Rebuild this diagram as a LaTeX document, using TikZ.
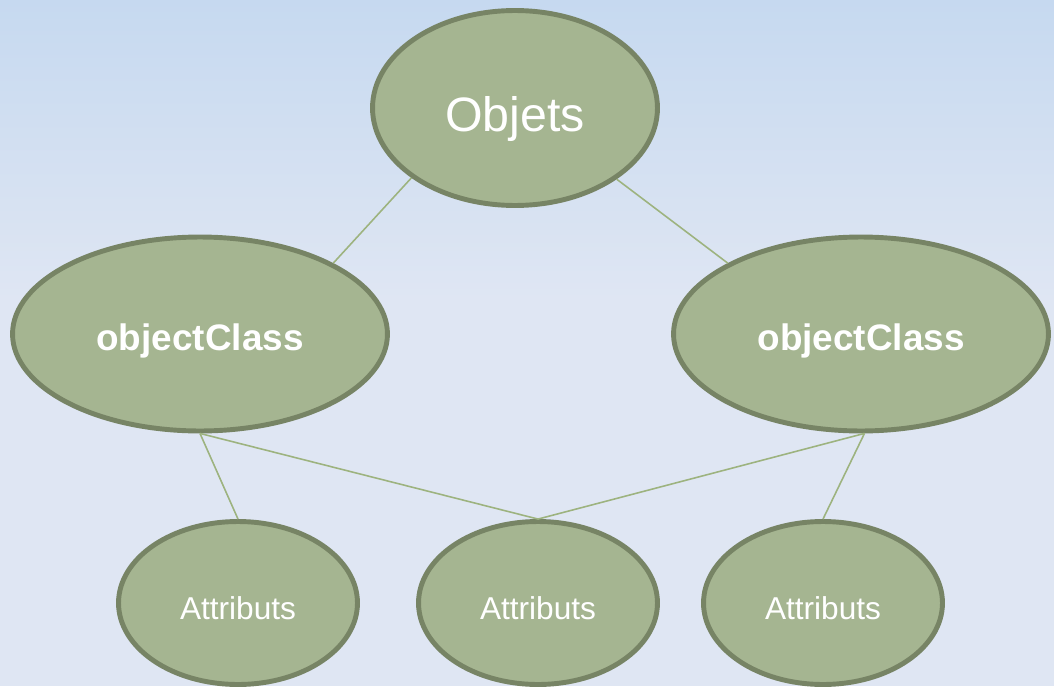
\documentclass[tikz,border=0pt]{standalone}
\usepackage{fontspec}
\setmainfont{Liberation Sans}
\usetikzlibrary{shapes.geometric}
\definecolor{bgtop}{RGB}{198,217,240}
\definecolor{bgbot}{RGB}{223,230,243}
\definecolor{ovalfill}{RGB}{165,181,145}
\definecolor{ovalline}{RGB}{119,132,101}
\definecolor{linkcol}{RGB}{157,179,127}
\begin{document}
\begin{tikzpicture}[x=0.02cm,y=-0.02cm,
  oval/.style={ellipse, draw=ovalline, fill=ovalfill, line width=2.8pt,
    inner sep=0pt, text=white, text depth=0pt},
  link/.style={draw=linkcol, line width=0.9pt},
]
\useasboundingbox (0,0) rectangle (1054,686);
% background: light blue gradient fading into a flat pale tone
\shade[top color=bgtop, bottom color=bgbot] (0,0) rectangle (1054,300);
\fill[bgbot] (0,299) rectangle (1054,686);

% top level
\node[oval, minimum width=5.7cm, minimum height=3.9cm, text height=0.96cm,
  font=\fontsize{27.5}{30}\selectfont] (obj) at (515,108) {Objets};

% classes
\node[oval, minimum width=7.5cm, minimum height=3.88cm, text height=0.64cm,
  font=\bfseries\fontsize{21}{24}\selectfont] (ocl) at (200,334) {objectClass};
\node[oval, minimum width=7.5cm, minimum height=3.88cm, text height=0.64cm,
  font=\bfseries\fontsize{21}{24}\selectfont] (ocr) at (861,334) {objectClass};

% attributes
\tikzset{attr/.style={oval, minimum width=4.78cm, minimum height=3.26cm,
  text height=0.64cm, font=\fontsize{18}{21}\selectfont}}
\node[attr] (a1) at (238,603) {Attributs};
\node[attr] (a2) at (538,603) {Attributs};
\node[attr] (a3) at (823,603) {Attributs};

% connectors
\draw[link] (obj.214.5) -- (ocl.28);
\draw[link] (obj.325.8) -- (ocr.152);
\draw[link] (ocl.south) -- (a1.north);
\draw[link] (ocl.south) -- (a2.north);
\draw[link] (ocr.272) -- (a2.north);
\draw[link] (ocr.272) -- (a3.north);
\end{tikzpicture}
\end{document}
